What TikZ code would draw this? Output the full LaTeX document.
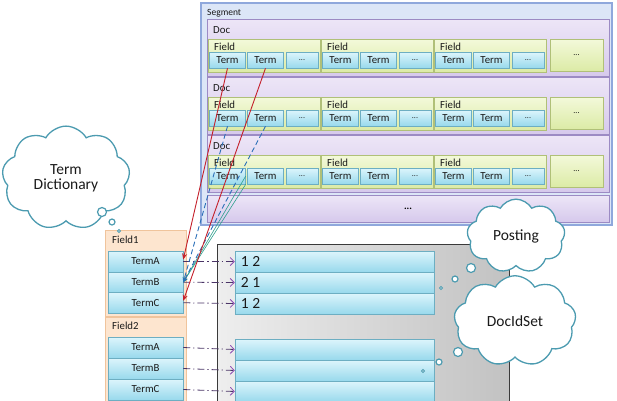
\documentclass[tikz,border=0pt]{standalone}
\usepackage{fontspec}
\setmainfont{Carlito}
\usetikzlibrary{shapes.symbols,arrows.meta,shadows,calc}
\definecolor{txt}{HTML}{1A1A1A}
\definecolor{segfill}{HTML}{DCE6F7}
\definecolor{segdraw}{HTML}{8FA8DC}
\definecolor{doctop}{HTML}{EDE6F7}
\definecolor{docbot}{HTML}{D6C9EC}
\definecolor{docdraw}{HTML}{9C8BC4}
\definecolor{fieldtop}{HTML}{F3F9DA}
\definecolor{fieldbot}{HTML}{DCEBA6}
\definecolor{fielddraw}{HTML}{B0C078}
\definecolor{termtop}{HTML}{DDF5FC}
\definecolor{termbot}{HTML}{98D9EC}
\definecolor{termdraw}{HTML}{6DAEC2}
\definecolor{dictfill}{HTML}{FDE5CF}
\definecolor{dictdraw}{HTML}{F0C49C}
\definecolor{grayl}{HTML}{EEEEEE}
\definecolor{grayr}{HTML}{C2C2C2}
\definecolor{graydraw}{HTML}{3A3A3A}
\definecolor{clouddraw}{HTML}{4C9BB0}
\definecolor{redline}{HTML}{C4202B}
\definecolor{blueline}{HTML}{2B6FB8}
\definecolor{tealline}{HTML}{2EA08E}
\definecolor{ddline}{HTML}{4A3466}
\definecolor{ddtip}{HTML}{8A48B0}
\newcommand\termfont{\fontsize{10.8}{11}\selectfont}
\newcommand\boxnode[7]{%
  \pgfmathsetmacro\bxcx{((#3)+(#5))/2}\pgfmathsetmacro\bxcy{((#4)+(#6))/2}%
  \pgfmathsetmacro\bxw{(#5)-(#3)}\pgfmathsetmacro\bxh{(#6)-(#4)}%
  \node[#1, minimum width=\bxw pt, minimum height=\bxh pt, inner sep=0pt] (#2) at (\bxcx,\bxcy) {#7};}
\tikzset{
  shad/.style={drop shadow={shadow xshift=0.8pt, shadow yshift=-0.8pt, opacity=0.25}},
  segbox/.style={rectangle, draw=segdraw, fill=segfill, line width=1.4pt, shad},
  docbox/.style={rectangle, draw=docdraw, top color=doctop, bottom color=docbot, line width=0.6pt, shad},
  fieldbox/.style={rectangle, draw=fielddraw, top color=fieldtop, bottom color=fieldbot, line width=0.5pt, shad},
  termbox/.style={rectangle, draw=termdraw, top color=termtop, bottom color=termbot, line width=0.5pt, font=\termfont, text=txt, shad},
  dotsbox/.style={termbox, font=\fontsize{8}{9}\selectfont},
  dictbox/.style={rectangle, draw=dictdraw, fill=dictfill, line width=0.6pt, shad},
  graybox/.style={rectangle, draw=graydraw, left color=grayl, right color=grayr, line width=0.8pt},
  lbl/.style={anchor=west, inner sep=0pt, text=txt, font=\termfont},
  numlbl/.style={anchor=west, inner sep=0pt, text=txt, font=\fontsize{15.5}{16}\selectfont},
  cloudn/.style={cloud, cloud puffs=9, cloud puff arc=120, draw=clouddraw, fill=white, line width=1.3pt, text=txt, font=\fontsize{15.5}{17}\selectfont, align=center, inner sep=0pt},
  bubble/.style={circle, draw=clouddraw, fill=white, line width=1.2pt, inner sep=0pt},
  redarrow/.style={draw=redline, line width=0.9pt, -{Stealth[length=6pt,width=5pt]}},
  bluearrow/.style={draw=blueline, line width=0.9pt, dash pattern=on 5pt off 3pt, -{Stealth[length=5pt,width=4pt]}},
  tealarrow/.style={draw=tealline, line width=0.6pt, -{Stealth[length=5pt,width=4pt]}},
  ddarrow/.style={draw=ddline, line width=0.8pt, dash pattern=on 7pt off 3pt on 1.2pt off 3pt, -{Straight Barb[length=4pt,width=8pt,color=ddtip]}}
}
\begin{document}
\begin{tikzpicture}[x=1pt,y=-1pt]
\useasboundingbox (0,0) rectangle (617,400);
\clip (0,0) rectangle (617,400);
% segment
\boxnode{segbox}{seg}{201}{3}{612}{225}{}
\node[lbl, font=\fontsize{9.5}{10}\selectfont] (seglbl) at (207,13) {Segment};
\foreach \d in {1,2,3}{
  \pgfmathsetmacro\oy{58*(\d-1)}
  \boxnode{docbox}{doc\d}{207}{19+\oy}{609}{76+\oy}{}
  \node[lbl] (doclbl\d) at (213,30+\oy) {Doc};
  \foreach \f in {1,2,3}{
    \pgfmathsetmacro\fx{208+113*(\f-1)}
    \boxnode{fieldbox}{d\d f\f}{\fx+0.5}{39+\oy}{\fx+112.5}{72+\oy}{}
    \node[lbl] (d\d f\f l) at (\fx+6,46.5+\oy) {Field};
    \boxnode{termbox}{d\d f\f a}{\fx+1.5}{52+\oy}{\fx+37.5}{68+\oy}{Term}
    \boxnode{termbox}{d\d f\f b}{\fx+39.5}{52+\oy}{\fx+75.5}{68+\oy}{Term}
    \boxnode{dotsbox}{d\d f\f c}{\fx+78}{52+\oy}{\fx+110}{68+\oy}{...}
  }
  \boxnode{fieldbox}{d\d f4}{550}{39+\oy}{603}{71+\oy}{\fontsize{8}{9}\selectfont ...}
}
\boxnode{docbox}{docmore}{207}{195}{609}{222}{\fontsize{10}{10}\selectfont\bfseries ...}
% gray DocIdSet container
\boxnode{graybox}{gbox}{217}{244}{509}{420}{}
\boxnode{termbox}{p1}{235}{251}{434}{272}{}
\boxnode{termbox}{p2}{235}{272}{434}{293}{}
\boxnode{termbox}{p3}{235}{293}{434}{314}{}
\node[numlbl] (p1l) at ($(p1.west)+(6,0)$) {1 2};
\node[numlbl] (p2l) at ($(p2.west)+(6,0)$) {2 1};
\node[numlbl] (p3l) at ($(p3.west)+(6,0)$) {1 2};
\boxnode{termbox}{q1}{235}{339}{434}{360}{}
\boxnode{termbox}{q2}{235}{360}{434}{381}{}
\boxnode{termbox}{q3}{235}{381}{434}{402}{}
% term dictionary
\boxnode{dictbox}{fd1}{105}{230}{186}{316}{}
\node[lbl] (fd1l) at (112,240) {Field1};
\boxnode{termbox}{f1a}{108}{251}{183}{272}{TermA}
\boxnode{termbox}{f1b}{108}{272}{183}{292.5}{TermB}
\boxnode{termbox}{f1c}{108}{292.5}{183}{313}{TermC}
\boxnode{dictbox}{fd2}{105}{317}{186}{412}{}
\node[lbl] (fd2l) at (112,326) {Field2};
\boxnode{termbox}{f2a}{108}{337}{183}{358}{TermA}
\boxnode{termbox}{f2b}{108}{358}{183}{379}{TermB}
\boxnode{termbox}{f2c}{108}{379}{183}{400}{TermC}
% dash-dot links
\foreach \s/\t in {f1a/p1,f1b/p2,f1c/p3,f2a/q1,f2b/q2,f2c/q3}
  \draw[ddarrow] (\s.east) -- (\t.west);
% clouds
\node[cloudn, minimum width=128pt, minimum height=56pt] (ctd) at (66,178) {Term\\[-2pt]Dictionary};
\node[bubble, minimum size=9pt] (tb1) at (102,212) {};
\node[bubble, minimum size=6pt] (tb2) at (112,222) {};
\node[bubble, minimum size=3pt, line width=0.9pt] (tb3) at (119,231) {};
\node[cloudn, minimum width=98pt, minimum height=54pt] (cpost) at (516,236) {Posting};
\node[bubble, minimum size=9pt] (pb1) at (471,268) {};
\node[bubble, minimum size=6pt] (pb2) at (455,279) {};
\node[bubble, minimum size=3pt, line width=0.9pt] (pb3) at (441,288) {};
\node[cloudn, minimum width=122pt, minimum height=56pt] (cdoc) at (515,321) {DocIdSet};
\node[bubble, minimum size=9pt] (db1) at (458,352) {};
\node[bubble, minimum size=6pt] (db2) at (439,362) {};
\node[bubble, minimum size=3pt, line width=0.9pt] (db3) at (423,371) {};
% term links
\draw[tealarrow] (d3f1a.east) -- (f1b.east);
\draw[tealarrow] (d3f1a.south east) -- (f1b.east);
\draw[bluearrow] (d2f1a.south) -- (f1b.east);
\draw[bluearrow] (d2f1b.south) -- (f1b.east);
\draw[redarrow] (d1f1a.south) -- ($(f1a.east)+(0,-2)$);
\draw[redarrow] (d1f1b.south) -- ($(f1c.east)+(0,-2)$);
\end{tikzpicture}
\end{document}
